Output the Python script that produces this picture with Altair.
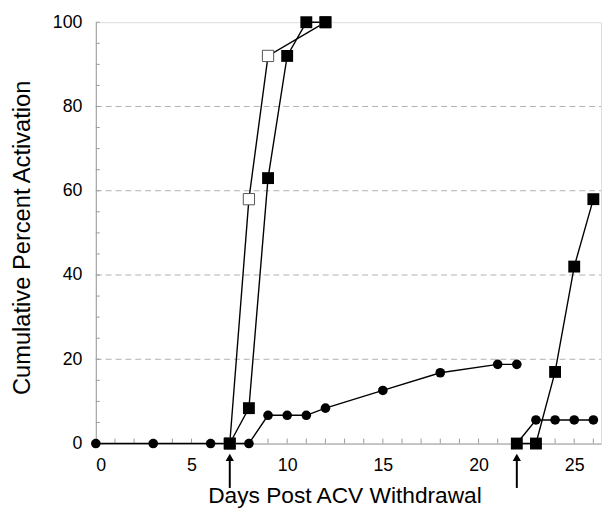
import altair as alt
import pandas as pd

# ---- data ----
circ_a_days = [0, 3, 6, 7, 8, 9, 10, 11, 12, 15, 18, 21, 22]
circ_a_vals = [0, 0, 0, 0, 0, 6.7, 6.7, 6.7, 8.4, 12.6, 16.8, 18.8, 18.8]
circ_b_days = [22, 23, 24, 25, 26]
circ_b_vals = [0, 5.6, 5.6, 5.6, 5.6]
open_days = [7, 8, 9, 12]
open_vals = [0, 58, 92, 100]
fill_a_days = [7, 8, 9, 10, 11, 12]
fill_a_vals = [0, 8.4, 63, 92, 100, 100]
fill_b_days = [22, 23, 24, 25, 26]
fill_b_vals = [0, 0, 17, 42, 58]
arrow_days = [7, 22]
grid_vals = [20, 40, 60, 80]
x_labels = [0, 5, 10, 15, 20, 25]
y_labels = [0, 20, 40, 60, 80, 100]
x_minor = list(range(0, 27))
y_minor = list(range(0, 101, 5))

W, H = 512, 427
XMAX = 26.4


def series(name, days, vals, kind):
    return pd.DataFrame({"day": days, "pct": vals, "series": name, "kind": kind})


df = pd.concat([
    series("ca", circ_a_days, circ_a_vals, "circle"),
    series("cb", circ_b_days, circ_b_vals, "circle"),
    series("op", open_days, open_vals, "open"),
    series("fa", fill_a_days, fill_a_vals, "filled"),
    series("fb", fill_b_days, fill_b_vals, "filled"),
], ignore_index=True)

xs = alt.Scale(domain=[0, XMAX], nice=False, zero=False)
ys = alt.Scale(domain=[0, 100], nice=False)

x_axis = alt.Axis(values=x_labels, grid=False, ticks=False, tickSize=0,
                  domainColor="#9a9a9a", labelFontSize=18, labelPadding=13,
                  labelColor="black", labelFont="Liberation Sans",
                  title="Days Post ACV Withdrawal", titleFontSize=23,
                  titleFont="Liberation Sans", titleFontWeight="normal",
                  titleColor="black", titleX=252, titleY=60,
                  titleBaseline="alphabetic", titleAnchor="middle", titleAlign="center")
y_axis = alt.Axis(values=y_labels, grid=False, ticks=False, tickSize=0,
                  domainColor="#9a9a9a", labelFontSize=18, labelPadding=14,
                  labelColor="black", labelFont="Liberation Sans",
                  title="Cumulative Percent Activation", titleFontSize=24,
                  titleFont="Liberation Sans", titleFontWeight="normal",
                  titleColor="black", titleX=-67, titleY=218,
                  titleAngle=-90, titleBaseline="alphabetic", titleAlign="center")


def xq(field):
    return alt.X(field, type="quantitative", scale=xs, axis=x_axis)


def yq(field):
    return alt.Y(field, type="quantitative", scale=ys, axis=y_axis)


grid = alt.Chart(pd.DataFrame({"g": grid_vals})).mark_rule(
    color="#b0b0b0", strokeDash=[6, 4], strokeWidth=1
).encode(y=yq("g"), x=alt.value(0), x2=alt.value(W))

ytick = alt.Chart(pd.DataFrame({"t": y_minor})).mark_rule(color="#9a9a9a", strokeWidth=1).encode(
    y=yq("t"), x=alt.value(0), x2=alt.value(4))

xtick = alt.Chart(pd.DataFrame({"t": x_minor})).mark_rule(color="#9a9a9a", strokeWidth=1).encode(
    x=xq("t"), y=alt.value(H), y2=alt.value(H - 5))

base = alt.Chart(df)

lines = base.mark_line(color="black", strokeWidth=1.4, clip=False).encode(
    x=xq("day"), y=yq("pct"), detail="series:N", order="day:Q")

circles = base.transform_filter(alt.datum.kind == "circle").mark_point(
    shape="circle", filled=True, color="black", size=95, opacity=1, clip=False
).encode(x=xq("day"), y=yq("pct"))

opens = base.transform_filter(alt.datum.kind == "open").mark_point(
    shape="square", filled=True, fill="white", stroke="#555555", strokeWidth=1,
    size=130, opacity=1, clip=False
).encode(x=xq("day"), y=yq("pct"))

filled = base.transform_filter(alt.datum.kind == "filled").mark_point(
    shape="square", filled=True, color="black", size=145, opacity=1, clip=False
).encode(x=xq("day"), y=yq("pct"))

arrows_df = pd.DataFrame({"d": arrow_days})
arrow_shaft = alt.Chart(arrows_df).mark_rule(color="black", strokeWidth=2).encode(
    x=xq("d"), y=alt.value(440), y2=alt.value(472))
arrow_head = alt.Chart(arrows_df).mark_point(
    shape="triangle-up", filled=True, color="black", size=70, opacity=1
).encode(x=xq("d"), y=alt.value(441))

chart = alt.layer(
    grid, ytick, xtick, lines, circles, opens, filled, arrow_shaft, arrow_head
).properties(
    width=W, height=H,
    autosize="none",
    padding={"left": 89, "top": 11, "right": 1, "bottom": 68},
).configure_view(stroke="#b5b5b5", strokeWidth=1).configure(background="white")

chart.save("out.html", embed_options={"renderer": "svg", "actions": False})
